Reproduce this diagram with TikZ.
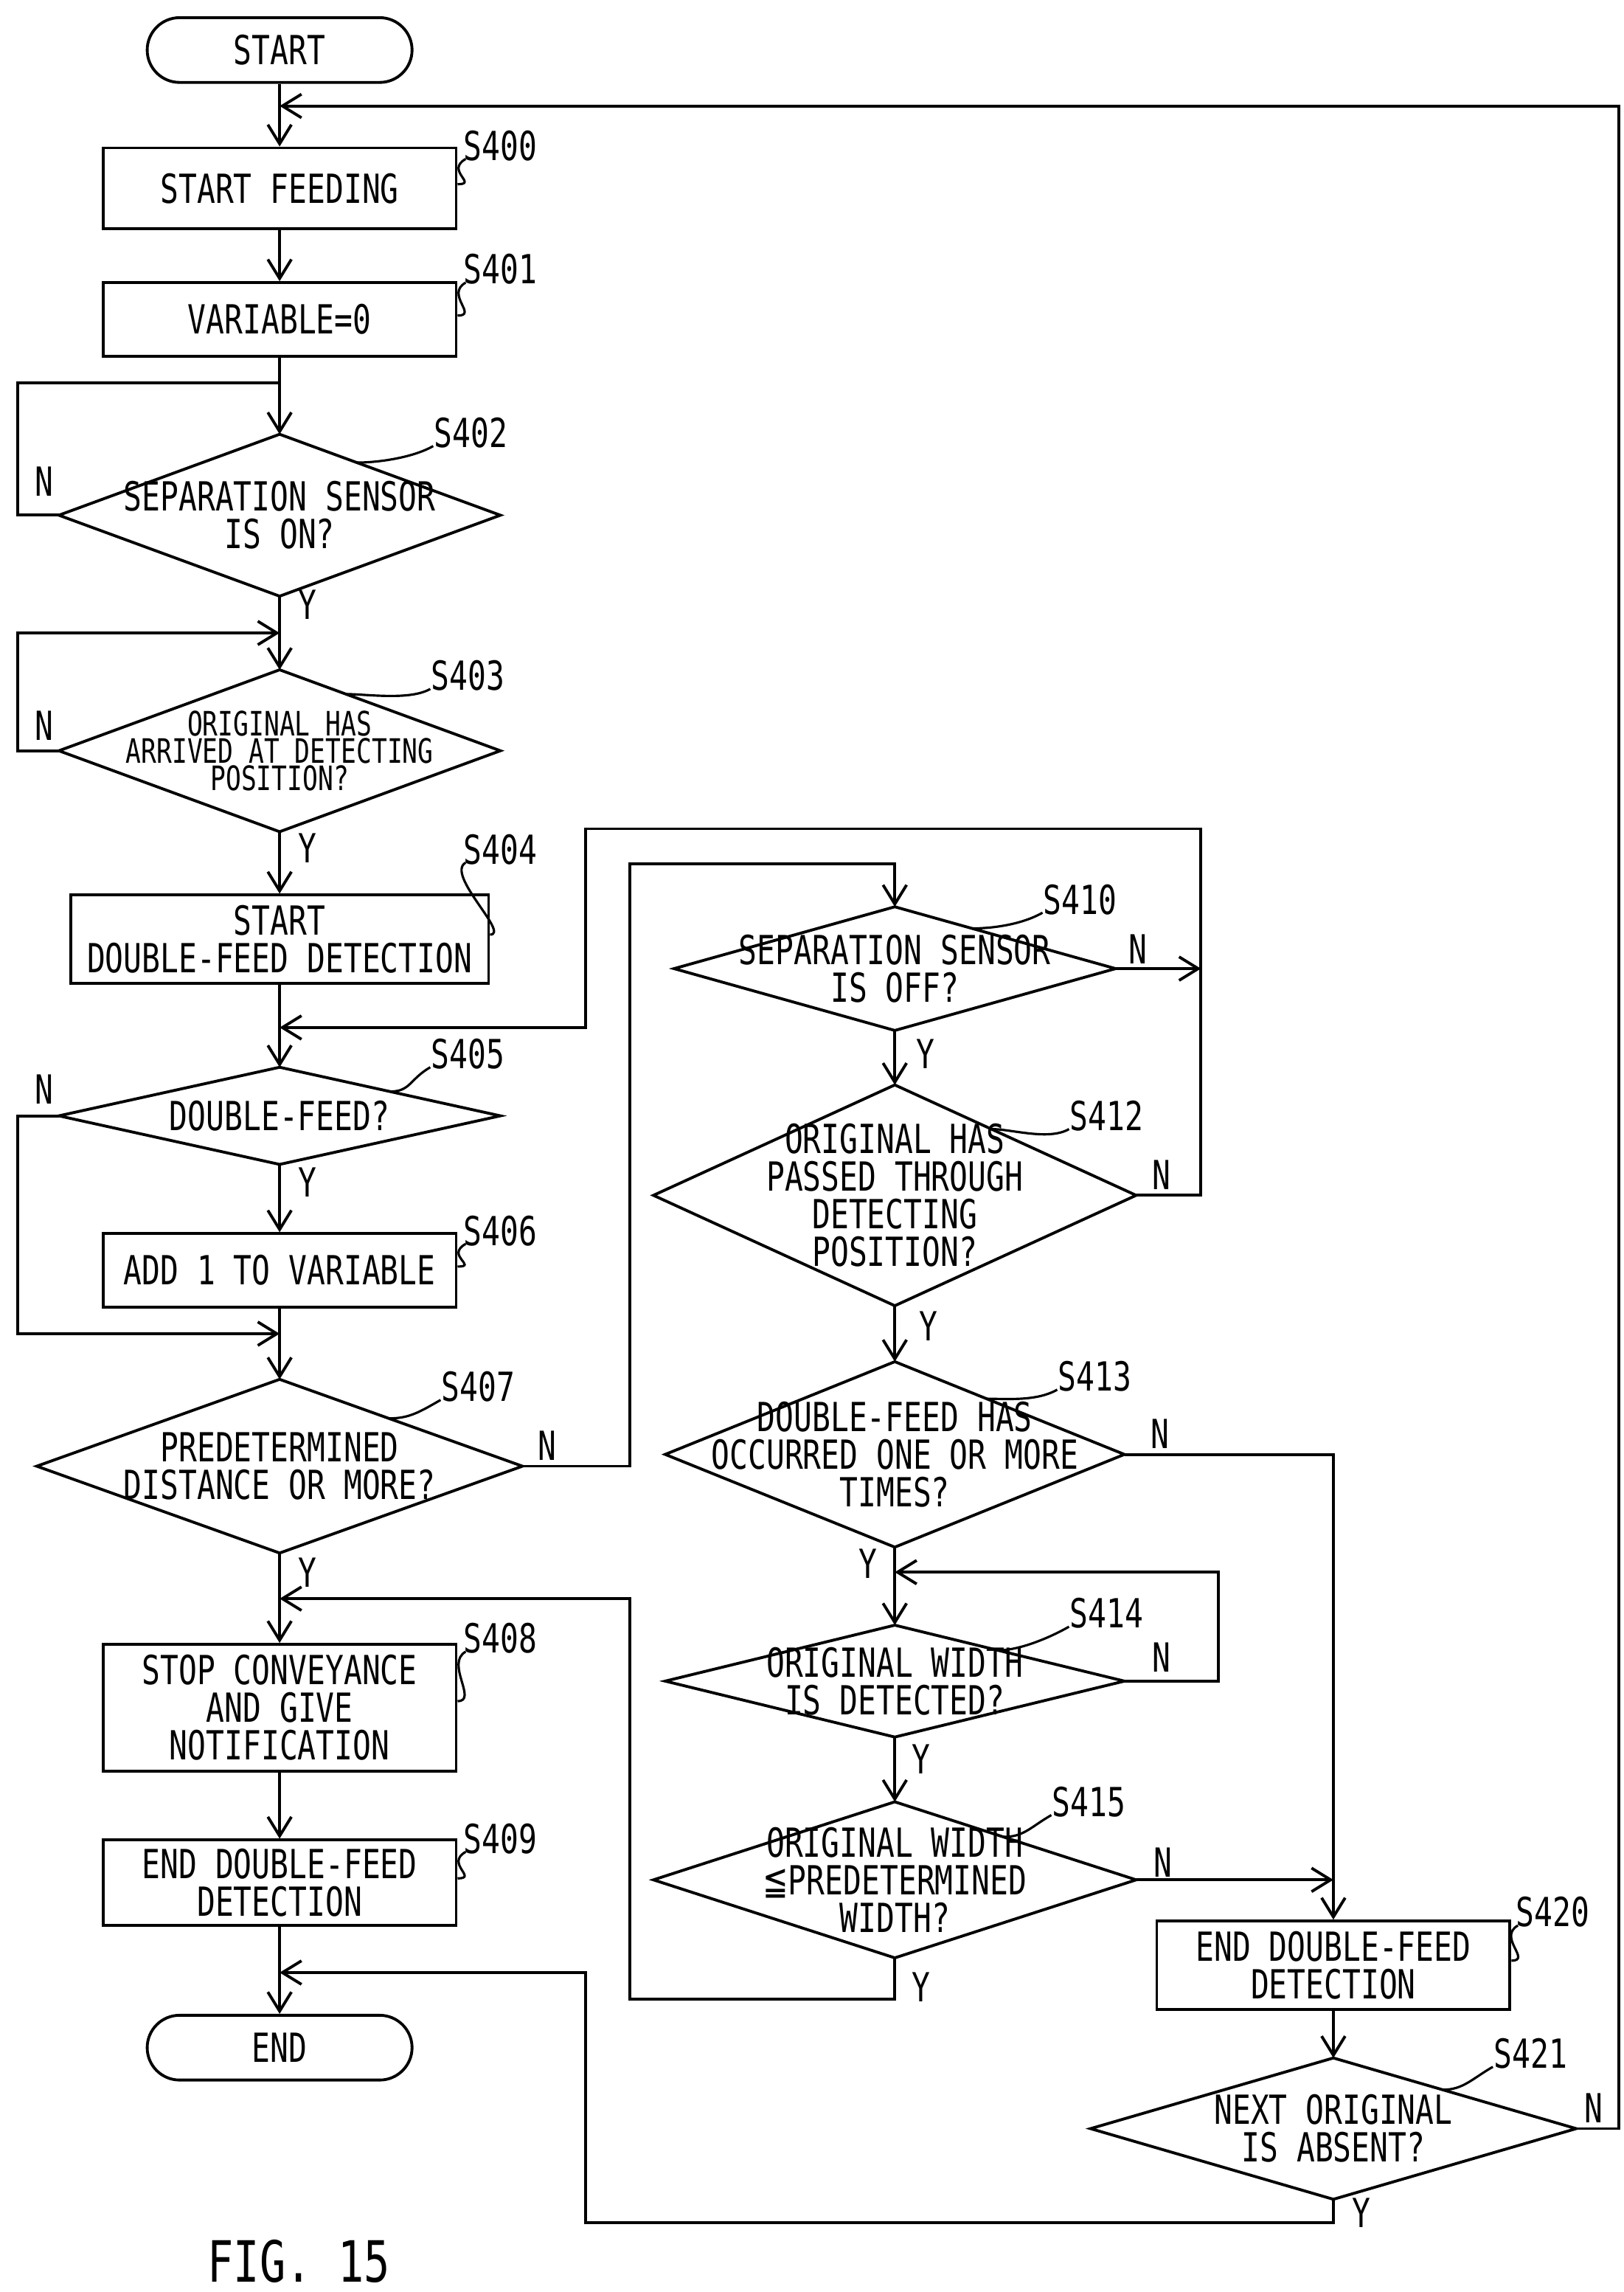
\documentclass[tikz,border=0pt]{standalone}
\usepackage{fontspec}
\setmainfont{DejaVu Sans Mono}[FakeStretch=0.76]
\newfontfamily\symfont{DejaVu Sans}[FakeStretch=0.76]
\usetikzlibrary{arrows.meta,calc}
\tikzset{
  box/.style={draw, minimum width=4.8cm, align=center, inner sep=0pt},
  term/.style={draw, rounded corners=0.44cm, minimum width=3.6cm, minimum height=0.88cm},
  steplbl/.style={inner sep=1pt},
  yn/.style={inner sep=1pt},
  leader/.style={line width=0.9pt},
}
% diamond drawn as a polygon with named corner coordinates
\newcommand{\dia}[7][]{%
  \node[align=center, inner sep=0pt, #1] (#2) at (#3,#4) {#7};
  \coordinate (#2-l) at ($(#3,#4)+(-#5,0)$);
  \coordinate (#2-r) at ($(#3,#4)+(#5,0)$);
  \coordinate (#2-t) at ($(#3,#4)+(0,-#6)$);
  \coordinate (#2-b) at ($(#3,#4)+(0,#6)$);
  \draw (#2-l) -- (#2-t) -- (#2-r) -- (#2-b) -- cycle;}
\begin{document}
\begin{tikzpicture}[x=0.02cm, y=-0.02cm, line width=1.1pt,
  >={Straight Barb[length=2.6mm, width=3.2mm]},
  font=\fontsize{15.5}{14.5}\selectfont]
\useasboundingbox (0,0) rectangle (1103,1557);
% left column
\node[term] (start) at (190,34) {START};
\node[box, minimum height=1.1cm] (s400) at (190,128) {START FEEDING};
\node[box, minimum height=1.0cm] (s401) at (190,217) {VARIABLE=0};
\dia{s402}{190}{350}{150}{55}{SEPARATION SENSOR\\IS ON?}
\dia[font=\fontsize{13}{10.5}\selectfont]{s403}{190}{510}{150}{55}{ORIGINAL HAS\\ARRIVED AT DETECTING\\POSITION?}
\node[box, minimum width=5.68cm, minimum height=1.2cm] (s404) at (190,638) {START\\DOUBLE-FEED DETECTION};
\dia{s405}{190}{758}{150}{33}{DOUBLE-FEED?}
\node[box, minimum height=1.0cm] (s406) at (190,863) {ADD 1 TO VARIABLE};
\dia{s407}{190}{996}{165}{59}{PREDETERMINED\\DISTANCE OR MORE?}
\node[box, minimum height=1.72cm] (s408) at (190,1160) {STOP CONVEYANCE\\AND GIVE\\NOTIFICATION};
\node[box, minimum height=1.16cm] (s409) at (190,1279) {END DOUBLE-FEED\\DETECTION};
\node[term] (end) at (190,1391) {END};
% right column
\dia{s410}{608}{658}{150}{42}{SEPARATION SENSOR\\IS OFF?}
\dia{s412}{608}{812}{164}{75}{ORIGINAL HAS\\PASSED THROUGH\\DETECTING\\POSITION?}
\dia{s413}{608}{988}{156}{63}{DOUBLE-FEED HAS\\OCCURRED ONE OR MORE\\TIMES?}
\dia{s414}{608}{1142}{156}{38}{ORIGINAL WIDTH\\IS DETECTED?}
\dia{s415}{608}{1277}{164}{53}{ORIGINAL WIDTH\\{\symfont ≦}PREDETERMINED\\WIDTH?}
\node[box, minimum height=1.2cm] (s420) at (906,1335) {END DOUBLE-FEED\\DETECTION};
\dia{s421}{906}{1446}{165}{48}{NEXT ORIGINAL\\IS ABSENT?}
% step labels
\node[steplbl] (l400) at (340,99) {S400};
\node[steplbl] (l401) at (340,183) {S401};
\node[steplbl] (l402) at (320,294) {S402};
\node[steplbl] (l403) at (318,459) {S403};
\node[steplbl] (l404) at (340,577) {S404};
\node[steplbl] (l405) at (318,716) {S405};
\node[steplbl] (l406) at (340,836) {S406};
\node[steplbl] (l407) at (325,942) {S407};
\node[steplbl] (l408) at (340,1113) {S408};
\node[steplbl] (l409) at (340,1249) {S409};
\node[steplbl] (l410) at (734,611) {S410};
\node[steplbl] (l412) at (752,758) {S412};
\node[steplbl] (l413) at (744,935) {S413};
\node[steplbl] (l414) at (752,1096) {S414};
\node[steplbl] (l415) at (740,1224) {S415};
\node[steplbl] (l420) at (1055,1299) {S420};
\node[steplbl] (l421) at (1040,1395) {S421};
\foreach \b/\l in {s400/l400,s401/l401,s404/l404,s406/l406,s408/l408,s409/l409,s420/l420}
  \draw[leader] ($(\b.north east)!0.45!(\b.south east)$) .. controls +(14,0) and +(-14,8) .. ($(\l.south west)+(4,-4)$);
\foreach \b/\l/\f in {s402/l402/0.35,s403/l403/0.3,s405/l405/0.5,s407/l407/0.45,s410/l410/0.35,s412/l412/0.4,s413/l413/0.4,s414/l414/0.45,s415/l415/0.45,s421/l421/0.45}
  \draw[leader] ($(\b-t)!\f!(\b-r)$) .. controls +(14,0) and +(-14,8) .. ($(\l.south west)+(2,-4)$);
% connectors
\draw[->] (start) -- (s400);
\draw[->] (s400) -- (s401);
\draw[->] (s401) -- (s402-t);
\draw (s402-l) -- (12,350) -- (12,260) -- (190,260);
\draw[->] (s402-b) -- (s403-t);
\draw[->] (s403-l) -- (12,510) -- (12,430) -- (190,430);
\draw[->] (s403-b) -- (s404);
\draw[->] (s404) -- (s405-t);
\draw[->] (s405-b) -- (s406);
\draw[->] (s405-l) -- (12,758) -- (12,906) -- (190,906);
\draw[->] (s406) -- (s407-t);
\draw[->] (s407-b) -- (s408);
\draw[->] (s407-r) -- (428,996) -- (428,587) -- (608,587) -- (s410-t);
\draw[->] (s408) -- (s409);
\draw[->] (s409) -- (end);
\draw[->] (s410-b) -- (s412-t);
\draw[->] (s410-r) -- (816,658);
\draw[->] (s412-r) -- (816,812) -- (816,563) -- (398,563) -- (398,698) -- (190,698);
\draw[->] (s412-b) -- (s413-t);
\draw[->] (s413-b) -- (s414-t);
\draw[->] (s413-r) -- (906,988) -- (s420);
\draw[->] (s414-r) -- (828,1142) -- (828,1068) -- (608,1068);
\draw[->] (s414-b) -- (s415-t);
\draw[->] (s415-r) -- (906,1277);
\draw[->] (s415-b) -- (608,1358) -- (428,1358) -- (428,1086) -- (190,1086);
\draw[->] (s420) -- (s421-t);
\draw[->] (s421-r) -- (1100,1446) -- (1100,72) -- (190,72);
\draw[->] (s421-b) -- (906,1510) -- (398,1510) -- (398,1340) -- (190,1340);
% Y / N marks
\foreach \t/\x/\y in {N/30/327,Y/209/411,N/30/493,Y/209/576,N/30/740,Y/209/803,
  N/372/982,Y/209/1068,N/773/645,Y/629/716,N/789/798,Y/631/901,N/788/974,
  Y/590/1062,N/789/1126,Y/626/1195,N/790/1265,Y/626/1350,N/1083/1432,Y/925/1503}
  \node[yn] at (\x,\y) {\t};
\node[font=\fontsize{22}{22}\selectfont] (fig) at (203,1536) {FIG. 15};
\end{tikzpicture}
\end{document}
